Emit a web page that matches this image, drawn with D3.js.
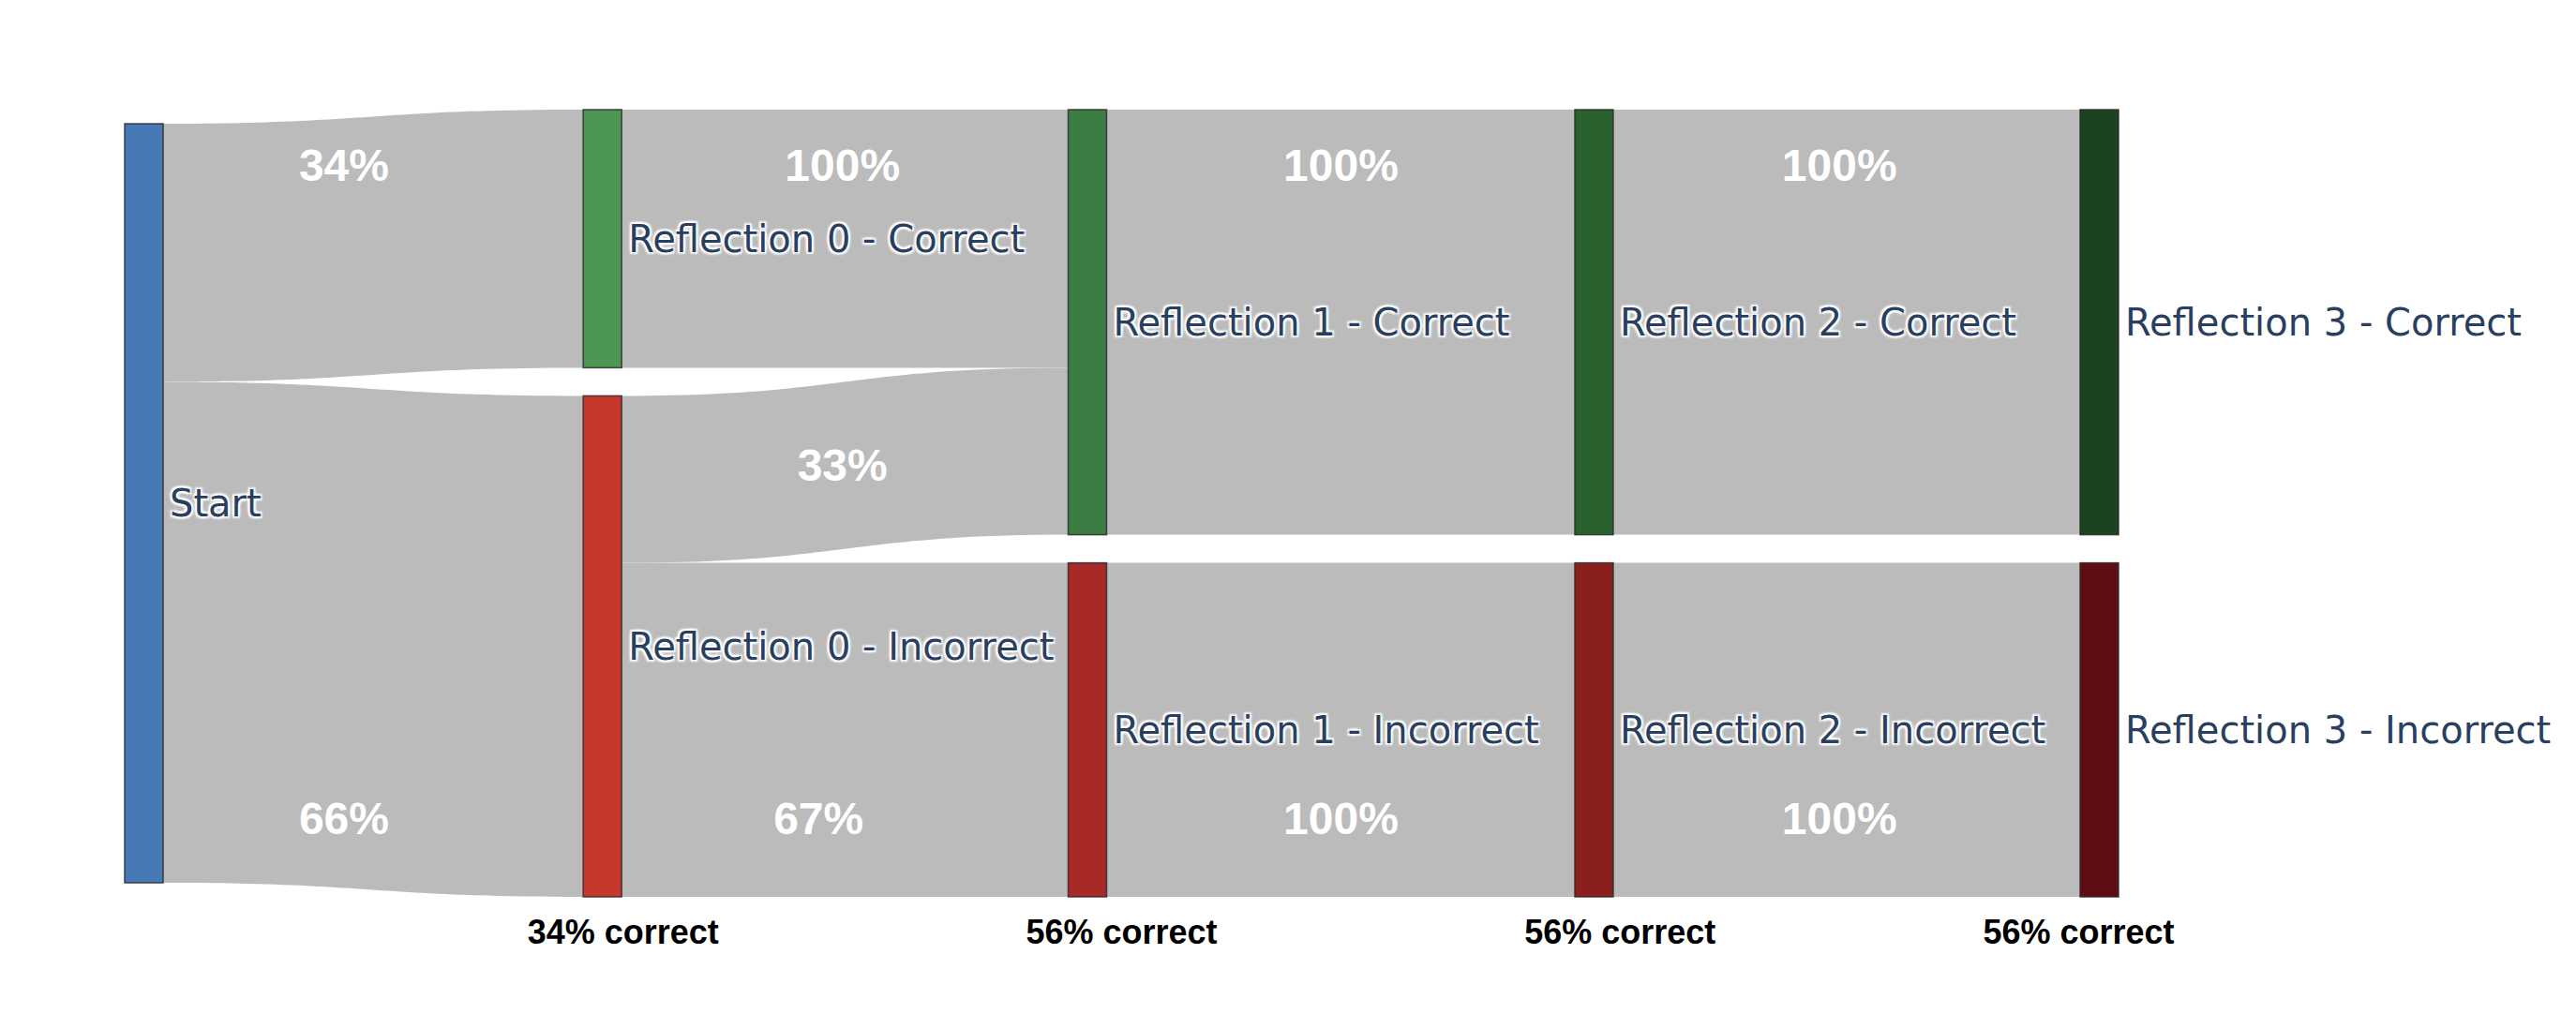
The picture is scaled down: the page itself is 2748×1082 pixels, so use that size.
<!DOCTYPE html>
<html>
<head>
<meta charset="utf-8">
<script src="https://cdn.jsdelivr.net/npm/d3@7"></script>
<style>
    body { margin: 0; background: #fff; }
    .node-label {
        font-family: "DejaVu Sans", Verdana, sans-serif;
        font-size: 40px;
        fill: #2a3f5f;
        text-shadow: 2px 2px 2px #fff, -2px -2px 2px #fff, 2px -2px 2px #fff, -2px 2px 2px #fff;
    }
    .link-label {
        font-family: "Liberation Sans", Arial, sans-serif;
        font-weight: bold;
        font-size: 48px;
        fill: #fff;
    }
    .stage-label {
        font-family: "Liberation Sans", Arial, sans-serif;
        font-weight: bold;
        font-size: 36px;
        fill: #000;
    }
</style>
</head>
<body>
<div id="chart"></div>
<script>
// nodes
var nodeNames = ["Start",
    "Reflection 0 - Correct", "Reflection 0 - Incorrect",
    "Reflection 1 - Correct", "Reflection 1 - Incorrect",
    "Reflection 2 - Correct", "Reflection 2 - Incorrect",
    "Reflection 3 - Correct", "Reflection 3 - Incorrect"];
var nodeStage = [0, 1, 1, 2, 2, 3, 3, 4, 4];
var nodeColors = ["#4679b6",
    "#4e9654", "#c6382e",
    "#3b7d42", "#a82926",
    "#2a622f", "#8a1f1e",
    "#1b4321", "#5e0e13"];

// links (counts out of 100 problems)
var linkSource = [0, 0, 1, 2, 2, 3, 4, 5, 6];
var linkTarget = [1, 2, 3, 3, 4, 5, 6, 7, 8];
var linkValues = [34, 66, 34, 22, 44, 56, 44, 56, 44];

// layout
var width = 2748,
    height = 1082,
    paper = {left: 133, right: 2260, top: 117, bottom: 957},
    nodeWidth = 41,
    nodePad = 30;
var stagePos = [0, 0.2345, 0.4825, 0.7416, 1]; // left edge of each column, fraction of free width

var svg = d3.select("#chart")
    .append("svg")
    .attr("width", width)
    .attr("height", height)
    .style("background", "#fff");

// build node / link objects
var nodes = nodeNames.map(function (name, i) {
    return {index: i, name: name, stage: nodeStage[i], color: nodeColors[i],
        correct: name.indexOf("Incorrect") < 0 && name !== "Start", sourceLinks: [], targetLinks: []};
});
var links = linkValues.map(function (v, i) {
    var l = {index: i, source: nodes[linkSource[i]], target: nodes[linkTarget[i]], value: v};
    l.source.sourceLinks.push(l);
    l.target.targetLinks.push(l);
    return l;
});
nodes.forEach(function (n) {
    n.value = Math.max(d3.sum(n.sourceLinks, function (l) { return l.value; }),
        d3.sum(n.targetLinks, function (l) { return l.value; }));
});

// scales
var columns = d3.groups(nodes, function (n) { return n.stage; }).map(function (g) { return g[1]; });
var maxTotal = d3.max(columns, function (c) { return d3.sum(c, function (n) { return n.value; }); });
var maxCount = d3.max(columns, function (c) { return c.length; });
var plotH = paper.bottom - paper.top;

var x = d3.scaleLinear().domain([0, 1]).range([paper.left, paper.right - nodeWidth]);
var h = d3.scaleLinear().domain([0, maxTotal]).range([0, plotH - nodePad * (maxCount - 1)]);
var paperX = d3.scaleLinear().domain([0, 1]).range([paper.left, paper.right]);
var paperY = d3.scaleLinear().domain([0, 1]).range([paper.bottom, paper.top]);

// position nodes, each column centred in the plot area
columns.forEach(function (col) {
    var total = d3.sum(col, function (n) { return h(n.value); }) + nodePad * (col.length - 1);
    var y = paper.top + (plotH - total) / 2;
    col.forEach(function (n) {
        n.x0 = x(stagePos[n.stage]);
        n.x1 = n.x0 + nodeWidth;
        n.y0 = y;
        n.y1 = y + h(n.value);
        y = n.y1 + nodePad;
    });
});

// link offsets at both ends
nodes.forEach(function (n) {
    var sy = n.y0, ty = n.y0;
    n.sourceLinks.sort(function (a, b) { return a.target.y0 - b.target.y0; }).forEach(function (l) {
        l.sy0 = sy; sy += h(l.value); l.sy1 = sy;
    });
    n.targetLinks.sort(function (a, b) { return a.source.y0 - b.source.y0; }).forEach(function (l) {
        l.ty0 = ty; ty += h(l.value); l.ty1 = ty;
    });
});

function ribbon(l) {
    var x0 = l.source.x1, x1 = l.target.x0, xm = (x0 + x1) / 2;
    var p = d3.path();
    p.moveTo(x0, l.sy0);
    p.bezierCurveTo(xm, l.sy0, xm, l.ty0, x1, l.ty0);
    p.lineTo(x1, l.ty1);
    p.bezierCurveTo(xm, l.ty1, xm, l.sy1, x0, l.sy1);
    p.closePath();
    return p.toString();
}

// links
svg.append("g")
    .selectAll("path")
    .data(links).enter()
    .append("path")
    .attr("d", ribbon)
    .attr("fill", "#bbbbbb");

// nodes
svg.append("g")
    .selectAll("rect")
    .data(nodes).enter()
    .append("rect")
    .attr("x", function (d) { return d.x0; })
    .attr("y", function (d) { return d.y0; })
    .attr("width", nodeWidth)
    .attr("height", function (d) { return d.y1 - d.y0; })
    .attr("fill", function (d) { return d.color; })
    .attr("stroke", "#2b2b2b")
    .attr("stroke-opacity", 0.85)
    .attr("stroke-width", 1.5);

// node labels
svg.append("g")
    .selectAll("text")
    .data(nodes).enter()
    .append("text")
    .attr("class", "node-label")
    .attr("x", function (d) { return d.x1 + 7; })
    .attr("y", function (d) { return (d.y0 + d.y1) / 2; })
    .attr("dy", "0.35em")
    .text(function (d) { return d.name; });

// link share labels: top for correct->correct, bottom for ->incorrect, centred for recoveries
svg.append("g")
    .selectAll("text")
    .data(links).enter()
    .append("text")
    .attr("class", "link-label")
    .attr("text-anchor", "middle")
    .attr("dy", "0.35em")
    .attr("x", function (d) {
        // the stay-wrong share after reflection 0 sits a little left in the original
        var shift = (!d.source.correct && !d.target.correct && d.source.stage === 1) ? -0.012 : 0;
        return paperX(0.11 + 0.25 * d.source.stage + shift);
    })
    .attr("y", function (d) {
        if (!d.target.correct) return paperY(0.1);
        if (d.source.correct || d.source.stage === 0) return paperY(0.93);
        return (d.sy0 + d.sy1 + d.ty0 + d.ty1) / 4;
    })
    .text(function (d) { return Math.round(100 * d.value / d.source.value) + "%"; });

// accuracy under each reflection column
var correctNodes = nodes.filter(function (n) { return n.correct; });
var total = nodes[0].value;
svg.append("g")
    .selectAll("text")
    .data(correctNodes).enter()
    .append("text")
    .attr("class", "stage-label")
    .attr("text-anchor", "middle")
    .attr("dy", "0.35em")
    .attr("x", function (d) { return paperX(Math.min(0.25 * d.stage, 0.98)); })
    .attr("y", paperY(-0.045))
    .text(function (d) { return Math.round(100 * d.value / total) + "% correct"; });
</script>
</body>
</html>
